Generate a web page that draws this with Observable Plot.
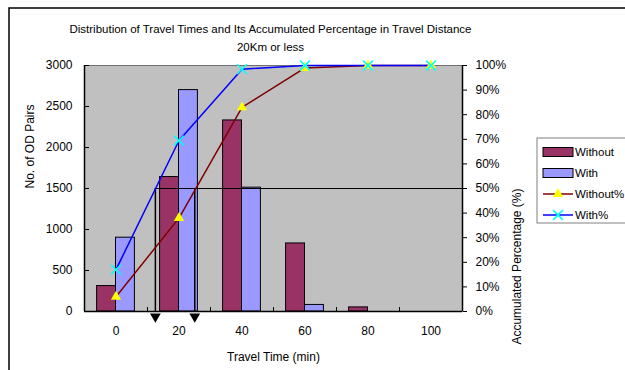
<!DOCTYPE html>
<html>
<head>
<meta charset="utf-8">
<script src="https://cdn.jsdelivr.net/npm/d3@7"></script>
<script src="https://cdn.jsdelivr.net/npm/@observablehq/plot@0.6"></script>
<style>
  html, body { margin: 0; padding: 0; background: #ffffff; }
  #chart svg { display: block; }
</style>
</head>
<body>
<div id="chart"></div>
<script>
// Travel time classes (minutes)
const times = [0, 20, 40, 60, 80, 100];
// Number of OD pairs per class
const withoutCounts = [310, 1640, 2330, 830, 50, 0];
const withCounts = [900, 2700, 1510, 80, 0, 0];
// Accumulated percentage per class
const withoutPct = [6, 38, 83, 99, 100, 100];
const withPct = [17, 69.5, 98.5, 100, 100, 100];
// Median travel times (50% crossing), minutes
const medianTimes = [12.5, 25];
const medianPct = 50;

const seriesNames = ["Without", "With", "Without%", "With%"];
const titleText = "Distribution of Travel Times and Its Accumulated Percentage in Travel Distance";
const subtitleText = "20Km or less";

const FONT = "'Liberation Sans', Arial, sans-serif";
const PCT_TO_COUNT = 30; // 100% on the right axis == 3000 on the left axis

const barRows = times.flatMap((t, i) => [
  {time: t, series: "Without", count: withoutCounts[i]},
  {time: t, series: "With", count: withCounts[i]}
]);
const withoutLine = times.map((t, i) => ({time: t, pct: withoutPct[i]}));
const withLine = times.map((t, i) => ({time: t, pct: withPct[i]}));

const barHalf = 6; // bar width in minutes
const colors = {Without: "#993366", With: "#9999ff"};

const chart = Plot.plot({
  width: 625,
  height: 370,
  marginLeft: 84,
  marginRight: 163,
  marginTop: 65,
  marginBottom: 59,
  style: {fontFamily: FONT, fontSize: "12px", background: "#ffffff", color: "#000"},
  x: {domain: [-10, 110], axis: null, label: null},
  y: {domain: [0, 3000], axis: null, label: null},
  marks: [
    Plot.frame({fill: "#c0c0c0", stroke: "#707070"}),
    // bars
    Plot.rect(barRows.filter(d => d.count > 0), {
      x1: d => d.series === "Without" ? d.time - barHalf : d.time,
      x2: d => d.series === "Without" ? d.time : d.time + barHalf,
      y1: 0,
      y2: "count",
      fill: d => colors[d.series],
      stroke: "#000",
      strokeWidth: 1
    }),
    // 50% reference and median arrows
    Plot.ruleY([medianPct * PCT_TO_COUNT], {x1: d3.min(medianTimes), x2: 110, stroke: "#000", strokeWidth: 1}),
    Plot.ruleX(medianTimes, {y1: medianPct * PCT_TO_COUNT, y2: 0, stroke: "#000", strokeWidth: 1.5}),
    Plot.dot(medianTimes, {x: d => d, y: 0, dy: 5, symbol: "triangle", rotate: 180, r: 4, fill: "#000", stroke: "none"}),
    // accumulated percentage lines
    Plot.line(withoutLine, {x: "time", y: d => d.pct * PCT_TO_COUNT, stroke: "#800000", strokeWidth: 1.5}),
    Plot.line(withLine, {x: "time", y: d => d.pct * PCT_TO_COUNT, stroke: "#0000ff", strokeWidth: 1.5}),
    Plot.dot(withoutLine, {x: "time", y: d => d.pct * PCT_TO_COUNT, symbol: "triangle", r: 3.8, fill: "#ffff00", stroke: "none"}),
    Plot.dot(withLine, {x: "time", y: d => d.pct * PCT_TO_COUNT, symbol: "times", r: 4.5, stroke: "#00ffff", strokeWidth: 1.5}),
    // axis lines
    Plot.ruleX([-10, 110], {stroke: "#000", strokeWidth: 1.5}),
    Plot.ruleY([0], {stroke: "#000", strokeWidth: 1.5}),
    // left axis
    Plot.axisY(d3.range(0, 3001, 500), {anchor: "left", label: null, tickSize: 0, tickPadding: 12, tickFormat: d => String(d), fontSize: 12}),
    Plot.axisY(d3.range(0, 3001, 500), {anchor: "left", label: null, tickSize: -5, tickFormat: () => "", stroke: "#000"}),
    // right axis
    Plot.axisY(d3.range(0, 3001, 300), {anchor: "right", label: null, tickSize: 4, tickPadding: 9, tickFormat: d => `${Math.round(d / PCT_TO_COUNT)}%`, fontSize: 12, stroke: "#000"}),
    // x axis
    Plot.axisX(times, {anchor: "bottom", label: null, tickSize: 0, tickPadding: 15, tickFormat: d => String(d), fontSize: 12}),
    Plot.axisX([10, 30, 50, 70, 90], {anchor: "bottom", label: null, tickSize: -4, tickFormat: () => "", stroke: "#000"}),
    // titles
    Plot.text([titleText], {frameAnchor: "top", dx: -3, dy: -36, lineAnchor: "middle", fontSize: 11.5}),
    Plot.text([subtitleText], {frameAnchor: "top", dx: -3, dy: -18, lineAnchor: "middle", fontSize: 11.5}),
    Plot.text(["No. of OD Pairs"], {frameAnchor: "left", dx: -54, rotate: -90, fontSize: 12}),
    Plot.text(["Accumulated Percentage (%)"], {frameAnchor: "right", dx: 55, rotate: -90, fontSize: 12}),
    Plot.text(["Travel Time (min)"], {frameAnchor: "bottom", dy: 46, lineAnchor: "middle", fontSize: 12})
  ]
});

// chart border and legend
const svg = d3.select(chart);
svg.append("rect")
  .attr("x", 9).attr("y", 8).attr("width", 700).attr("height", 400)
  .attr("fill", "none").attr("stroke", "#000").attr("stroke-width", 1.5);

const legend = svg.append("g")
  .attr("font-family", FONT).attr("font-size", 11.5).attr("text-anchor", "start");
legend.append("rect")
  .attr("x", 537).attr("y", 138).attr("width", 120).attr("height", 85)
  .attr("fill", "#fff").attr("stroke", "#808080");
const rowY = [152, 173, 194, 215];
seriesNames.forEach((name, i) => {
  const y = rowY[i];
  if (i < 2) {
    legend.append("rect")
      .attr("x", 543).attr("y", y - 4.5).attr("width", 30).attr("height", 9)
      .attr("fill", colors[name]).attr("stroke", "#000");
  } else if (i === 2) {
    legend.append("line").attr("x1", 543).attr("x2", 573).attr("y1", y).attr("y2", y)
      .attr("stroke", "#800000").attr("stroke-width", 1.5);
    legend.append("path").attr("transform", `translate(558,${y})`)
      .attr("d", d3.symbol(d3.symbolTriangle, Math.PI * 3.8 * 3.8)()).attr("fill", "#ffff00");
  } else {
    legend.append("line").attr("x1", 543).attr("x2", 573).attr("y1", y).attr("y2", y)
      .attr("stroke", "#0000ff").attr("stroke-width", 1.5);
    legend.append("path").attr("transform", `translate(558,${y})`)
      .attr("d", d3.symbol(d3.symbolTimes, Math.PI * 4.5 * 4.5)())
      .attr("fill", "none").attr("stroke", "#00ffff").attr("stroke-width", 1.5);
  }
  legend.append("text").attr("x", 575).attr("y", y).attr("dy", "0.35em")
    .attr("text-anchor", "start").text(name);
});

document.getElementById("chart").appendChild(chart);
</script>
</body>
</html>
